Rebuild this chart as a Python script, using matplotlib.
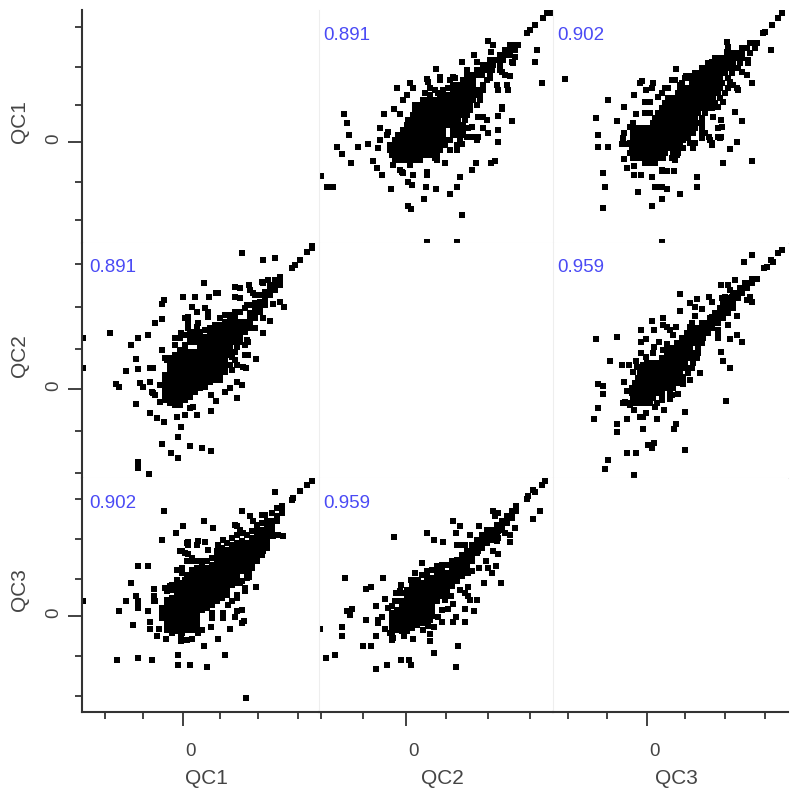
import matplotlib
matplotlib.use('Agg')
import matplotlib.pyplot as plt

plt.rcParams['font.family'] = ['Liberation Sans', 'DejaVu Sans']

names = ['QC1', 'QC2', 'QC3']
corr_12 = '0.891'
corr_13 = '0.902'
corr_23 = '0.959'

# values, QC2 vs QC1 (scattered points)
qc2_a = [-85,-79,-76,-73,-62,-59,-57,-69,-64,-55,-48,-38,-33,-29,-24,-15,-28,-22,-12,-6,-26,-18,-9,4,7,1,-3,-4,2,7,6,2,5,18,20,21,21,30,39,44,51,54,56,66,70,85,89,92,92,82,77,106,92,96,96,102,101,136,129,131,82,87,85,68,71,56,30,121,124,129,137,141,146,21,34,47,21,51,
         72,77,81,62,66,61,67,71,72,56,51,44,49,61,64,22,24,19,29,34,32,42,84,91,92,96,99,104,107,109,106,-13,-6,-3,4,14,29,31,-19,-26]
qc1_a = [-34,-45,-45,-45,28,19,7,-5,-12,-21,-5,-2,-19,-26,-33,-47,-6,28,33,28,14,10,54,59,54,47,42,-30,-40,-33,-43,-64,-67,-57,-45,-30,-33,-47,-21,-52,-45,-35,-73,-28,-21,-21,-19,0,12,9,14,21,26,33,35,52,57,59,80,92,101,97,90,87,80,80,73,109,112,117,124,129,129,63,65,65,-100,-100,
         25,25,22,14,15,5,5,2,5,-2,-8,62,64,72,67,60,54,49,52,62,49,54,64,57,52,70,67,66,79,85,80,-23,-28,-31,-23,-18,-16,-18,7,2]
# dense part, one x list per QC1 level
qc1_a_levels = [-18,-13,-8,-3,2,7,12,17,22,27,32,37,42,47,52,57,62,67,72,77,82,87,92,97]
qc2_a_rows = [
    [-11,-6,-1,4,9,14],
    [-14,-9,-4,1,6,11,16,21,26,31],
    [-16,-11,-6,-1,4,9,14,19,24,29,34,44],
    [-16,-11,-6,-1,4,9,14,19,24,29,34,39,51],
    [-11,-6,-1,4,9,14,19,24,29,34,39,44,54],
    [-8,-3,2,7,12,17,22,27,32,37,47,52,57],
    [-3,2,7,12,17,22,27,32,37,47,52,57],
    [1,6,11,16,21,26,31,36,41,46,51,57],
    [2,7,12,17,22,27,32,37,42,47,52,59],
    [7,12,17,22,27,32,37,42,47,52,57,61],
    [9,14,19,24,29,34,39,44,49,54,59,64],
    [9,14,19,24,29,34,39,44,49,54,59,64,71],
    [17,22,27,32,37,42,47,52,57,62,67,74],
    [24,34,39,44,49,54,59,64,69,74],
    [37,47,52,57,62,67,72,77],
    [47,52,57,62,67,77],
    [57,62,67,81],
    [61,66,71,76,84],
    [71,76,81,86,94],
    [77,82,87,94],
    [84,89,93,97],
    [94,99,104],
    [99,104,109],
    [104,108,112],
]

# QC3 vs QC1
qc3_b = [-82,-39,-51,-30,-23,-13,-11,-49,-49,-39,-23,-23,-20,-13,-13,-6,-44,-42,-44,-9,5,15,33,50,50,5,8,12,15,20,27,20,15,76,105,83,90,74,65,62,71,74,66,88,95,105,90,-5,-7,-1,6,5,29,25,124,118,116,125,131,135,80,81,80,65,68,55,-2,3,-2,3,-25,-20,15,
         18,21,15,11,28,33,39,43,51,55,91,86,83,95,100,101,101,76,71,58,55,43,46,36,28,30,15,-14,-17,-24,73,71,75,63,65]
qc1_b = [63,42,24,21,35,47,28,7,-5,-5,9,-17,-26,-24,-33,-33,-31,-45,-66,-50,-64,-57,-52,-35,-45,-35,-45,-45,-45,-47,-29,-29,-29,-21,-19,-7,0,5,-1,5,14,22,25,30,21,59,54,61,59,52,59,54,73,62,92,110,109,117,124,129,100,95,90,80,84,73,29,29,40,40,-2,-2,-100,
         54,54,49,45,62,57,66,66,67,74,52,57,60,70,67,79,82,40,35,9,9,-1,-6,2,-18,-13,-28,19,15,4,4,5,15,2,-3]
qc1_b_levels = [-21,-16,-11,-6,-1,4,9,14,19,24,29,34,39,44,49,54,59,64,69,74,79,84,89,94,99]
qc3_b_rows = [
    [-2,3,8],
    [-14,-9,-4,1,6,11,16,25],
    [-17,-12,-7,-2,3,8,13,18,26,31],
    [-15,-10,-5,0,5,10,15,20,25,30,36],
    [-17,-12,-7,-2,3,8,13,18,23,28,33,48],
    [-14,-9,-4,1,6,11,16,21,26,31,36,41,55],
    [-14,-9,-4,1,6,11,16,21,26,31,36,41,46,55],
    [-12,-7,-2,3,8,13,18,23,28,33,38,43,48,55],
    [6,11,16,21,26,31,36,41,46,51,55],
    [8,13,18,23,28,33,38,43,48,55],
    [11,16,21,26,31,36,41,46,51,58],
    [15,20,25,30,35,40,45,50,55,60,65],
    [18,23,28,33,38,43,48,53,58,63,68],
    [21,26,31,36,41,46,51,56,61,66,73],
    [31,36,41,46,51,56,61,66,71,78],
    [33,38,43,48,53,58,63,68,73,81],
    [35,45,50,55,60,65,70,75,83],
    [38,43,48,53,58,63,68,73,81],
    [48,53,58,63,68,73,78,85],
    [56,61,66,71,76,81,86,91],
    [61,66,71,76,81,86,93],
    [71,76,81,86,91,95],
    [85,90,95,103],
    [95,100,108],
    [103,107,110],
]

# QC3 vs QC2
qc3_c = [-51,-30,-37,-25,-18,-11,-6,7,5,-6,-1,7,12,-6,-1,6,16,16,20,23,29,20,18,33,33,43,48,50,55,62,65,48,45,43,74,81,88,83,97,105,117,120,124,126,131,135,103,105,90,81,71,71,83,90,95,74,76,83,53,43,36,31,23,17,38,79,29,27,-4,10,-1,-4,-7,-20,-30,-30,-53,-49,-44,-44,-49,-23,-20,-23,-18,-13,1,5,7,-20,-11,38,-39,-42,-13,
         -22,-24,-17,8,15,23,25,10,30,36,26,23,21,16,45,41,36,33,65,56,50,46,81,86,75,78,85,100,71,-14,-10,-4,0]
qc2_c = [50,52,28,24,24,28,59,59,68,47,50,42,47,36,32,36,71,64,62,59,62,45,39,95,78,86,82,90,80,92,87,73,66,62,104,104,109,99,127,134,121,122,129,127,136,139,92,87,73,64,56,51,50,54,47,37,28,21,16,9,5,-5,-4,-21,-23,-12,-35,-40,-40,-30,-24,-28,-28,-30,-35,-43,-30,-19,-5,3,5,7,-2,-14,-14,-21,-56,-59,-54,-64,-64,-61,-71,-80,-86,
         -13,-14,-16,-18,-11,-10,-6,-14,26,27,54,34,41,39,21,17,12,9,72,62,52,54,81,81,91,92,92,89,59,17,22,24,26]
qc2_c_levels = [-14,-9,-4,1,6,11,16,21,26,31,36,41,46,51,56,61,66,71,76,81,86,91,96,101,106,110]
qc3_c_rows = [
    [-12,-7,-2,3],
    [-14,-9,-4,1,6,15],
    [-15,-10,-5,0,5,10,15,23],
    [-15,-10,-5,0,5,10,15,20,26],
    [-12,-7,-2,3,8,13,18,23,28,33],
    [-9,-4,1,6,11,16,21,26,31,36],
    [-7,-2,3,8,13,18,23,28,33,41],
    [-4,1,6,11,16,21,26,31,36,41,45],
    [3,8,13,18,23,28,33,38,46],
    [15,20,25,30,35,40,45,50],
    [20,25,30,35,40,45,51],
    [23,28,33,38,43,51],
    [30,35,40,45,50,55],
    [35,40,45,50,56],
    [40,45,50,55,61],
    [46,51,56,61,65],
    [55,60,65,71],
    [63,68,72,76],
    [68,73,77,81],
    [73,77,81,85],
    [76,81,86],
    [80,85,91],
    [86,91,95],
    [93,97,100],
    [98,102,105],
    [105,108,110],
]


def flatten(rows, levels):
    xs = []
    ys = []
    for row, level in zip(rows, levels):
        for v in row:
            xs.append(v)
            ys.append(level)
    return xs, ys


x, y = flatten(qc2_a_rows, qc1_a_levels)
qc2_ab = qc2_a + x
qc1_ab = qc1_a + y
x, y = flatten(qc3_b_rows, qc1_b_levels)
qc3_ac = qc3_b + x
qc1_ac = qc1_b + y
x, y = flatten(qc3_c_rows, qc2_c_levels)
qc3_bc = qc3_c + x
qc2_bc = qc2_c + y

W, H = 798, 800
fig = plt.figure(figsize=(W / 100, H / 100), dpi=100)

col_edges = [82, 319, 553, 788]
row_edges = [10, 243, 478, 712]
x_lims = [(-101, 136), (-87, 147), (-94, 141)]
y_lims = [(-101, 132), (-89, 146), (-96, 138)]
x_ticks = [[-78, -40, 37, 75, 115], [-85, -43, 40, 82, 124], [-79, -40, 38, 78, 118]]
y_ticks = [[-78, -40, 37, 75, 115], [-84, -42, 40, 82, 125], [-80, -40, 37, 77, 117]]

panels = {
    (0, 1): (qc2_ab, qc1_ab, corr_12),
    (1, 0): (qc1_ab, qc2_ab, corr_12),
    (0, 2): (qc3_ac, qc1_ac, corr_13),
    (2, 0): (qc1_ac, qc3_ac, corr_13),
    (1, 2): (qc3_bc, qc2_bc, corr_23),
    (2, 1): (qc2_bc, qc3_bc, corr_23),
}

for r in range(3):
    for c in range(3):
        ax = fig.add_axes([col_edges[c] / W, 1 - row_edges[r + 1] / H,
                           (col_edges[c + 1] - col_edges[c]) / W,
                           (row_edges[r + 1] - row_edges[r]) / H])
        ax.set_xlim(x_lims[c])
        ax.set_ylim(y_lims[r])
        for side in ax.spines:
            ax.spines[side].set_color('#eeeeee')
            ax.spines[side].set_linewidth(0.8)
        ax.spines['top'].set_visible(False)
        ax.spines['right'].set_visible(False)

        if (r, c) in panels:
            px, py, label = panels[(r, c)]
            ax.plot(px, py, 's', color='black', ms=3.7, mew=0)
            left = col_edges[c] + (7 if c == 0 else 4)
            top = row_edges[r] + 25
            fig.text(left / W, 1 - top / H, label, color='#4a4af5', fontsize=13.5, ha='left', va='center')

        ax.set_xticks([])
        ax.set_yticks([])
        if c == 0:
            ax.spines['left'].set_color('#333333')
            ax.spines['left'].set_linewidth(1.5)
            ax.set_yticks([0])
            ax.set_yticklabels([''])
            ax.set_yticks(y_ticks[r], minor=True)
            ax.tick_params(axis='y', which='major', length=10, width=1.3, color='#333333')
            ax.tick_params(axis='y', which='minor', length=5, width=1.3, color='#333333')
        if r == 2:
            ax.spines['bottom'].set_color('#333333')
            ax.spines['bottom'].set_linewidth(1.5)
            ax.set_xticks([0])
            ax.set_xticklabels([''])
            ax.set_xticks(x_ticks[c], minor=True)
            ax.tick_params(axis='x', which='major', length=10, width=1.3, color='#333333')
            ax.tick_params(axis='x', which='minor', length=5, width=1.3, color='#333333')

# axis texts
zero_x = [190, 413, 655]
name_x = [206, 442, 676]
zero_y = [139, 386, 613]
name_y = [122, 356, 590]
for i, name in enumerate(names):
    fig.text(zero_x[i] / W, 1 - 752 / H, '0', color='#444444', fontsize=13.5, ha='center', va='center')
    fig.text(name_x[i] / W, 1 - 779 / H, name, color='#444444', fontsize=15, ha='center', va='center')
    fig.text(54 / W, 1 - zero_y[i] / H, '0', color='#444444', fontsize=13.5, rotation=90, ha='center', va='center')
    fig.text(20 / W, 1 - name_y[i] / H, name, color='#444444', fontsize=15, rotation=90, ha='center', va='center')

fig.savefig('out.png', dpi=100)
